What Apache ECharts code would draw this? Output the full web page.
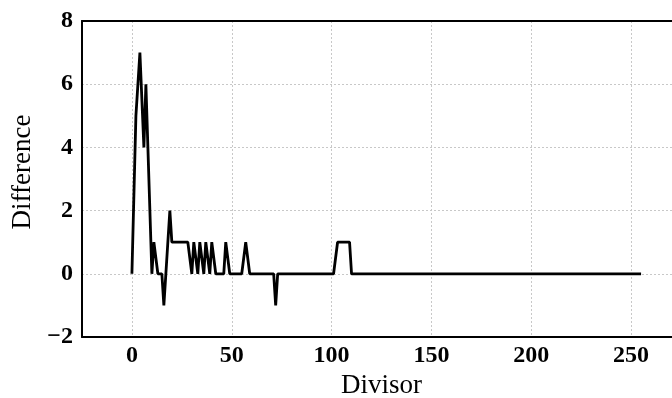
<!DOCTYPE html>
<html><head><meta charset="utf-8">
<script src="https://cdn.jsdelivr.net/npm/echarts@6/dist/echarts.min.js"></script>
<style>html,body{margin:0;padding:0;background:#fff}#c{width:672px;height:398px}</style>
</head><body><div id="c"></div>
<script>
// Difference value for each divisor 0..255 (index = divisor)
const difference = [
  0,0,5,5,7,7,4,6,4,4,
  0,1,1,0,0,0,-1,0,1,2,
  1,1,1,1,1,1,1,1,1,1,
  0,1,1,0,1,1,0,1,1,0,
  1,1,0,0,0,0,0,1,1,0,
  0,0,0,0,0,0,0,1,1,0,
  0,0,0,0,0,0,0,0,0,0,
  0,0,-1,0,0,0,0,0,0,0,
  0,0,0,0,0,0,0,0,0,0,
  0,0,0,0,0,0,0,0,0,0,
  0,0,0,1,1,1,1,1,1,1,
  0,0,0,0,0,0,0,0,0,0,
  0,0,0,0,0,0,0,0,0,0,
  0,0,0,0,0,0,0,0,0,0,
  0,0,0,0,0,0,0,0,0,0,
  0,0,0,0,0,0,0,0,0,0,
  0,0,0,0,0,0,0,0,0,0,
  0,0,0,0,0,0,0,0,0,0,
  0,0,0,0,0,0,0,0,0,0,
  0,0,0,0,0,0,0,0,0,0,
  0,0,0,0,0,0,0,0,0,0,
  0,0,0,0,0,0,0,0,0,0,
  0,0,0,0,0,0,0,0,0,0,
  0,0,0,0,0,0,0,0,0,0,
  0,0,0,0,0,0,0,0,0,0,
  0,0,0,0,0,0
];
const xName = 'Divisor';
const yName = 'Difference';
const xRange = [-25, 275];
const yRange = [-2, 8];
const yStep = 2;

const seriesData = difference.map((v, i) => [i, v]);
const serif = 'Liberation Serif, Times New Roman, serif';
const gridStyle = {show: true, lineStyle: {color: '#c8c8c8', width: 1, type: [2, 2]}};

const chart = echarts.init(document.getElementById('c'), null, {renderer: 'canvas'});
chart.setOption({
  animation: false,
  backgroundColor: '#fff',
  grid: {left: 82, top: 21, width: 599, height: 316, show: false,
         outerBoundsMode: 'none', containLabel: false},
  xAxis: [{
    type: 'value', min: xRange[0], max: xRange[1],
    name: xName, nameLocation: 'middle', nameGap: 29,
    nameTextStyle: {fontFamily: serif, fontSize: 27, color: '#000'},
    axisLine: {show: true, onZero: false, lineStyle: {color: '#000', width: 2}},
    axisTick: {show: false},
    axisLabel: {fontFamily: serif, fontWeight: 'bold', fontSize: 24, color: '#000', margin: 7,
                showMinLabel: false, showMaxLabel: false},
    splitLine: gridStyle
  }, {
    type: 'value', position: 'top', min: xRange[0], max: xRange[1],
    axisLine: {show: true, onZero: false, lineStyle: {color: '#000', width: 2}},
    axisTick: {show: false}, axisLabel: {show: false}, splitLine: {show: false}
  }],
  yAxis: {
    type: 'value', min: yRange[0], max: yRange[1], interval: yStep,
    name: yName, nameLocation: 'middle', nameGap: 40, nameRotate: 90,
    nameTextStyle: {fontFamily: serif, fontSize: 27, color: '#000', padding: [0, 0, 0, 14]},
    axisLine: {show: true, onZero: false, lineStyle: {color: '#000', width: 2}},
    axisTick: {show: false},
    axisLabel: {fontFamily: serif, fontWeight: 'bold', fontSize: 24, color: '#000', margin: 9,
                formatter: v => (v < 0 ? '\u2212' + Math.abs(v) : String(v))},
    splitLine: gridStyle
  },
  series: [{
    type: 'line', data: seriesData, showSymbol: false, symbol: 'none', z: 5,
    lineStyle: {color: '#000', width: 2.8}, itemStyle: {color: '#000'}
  }]
});
</script>
</body></html>
